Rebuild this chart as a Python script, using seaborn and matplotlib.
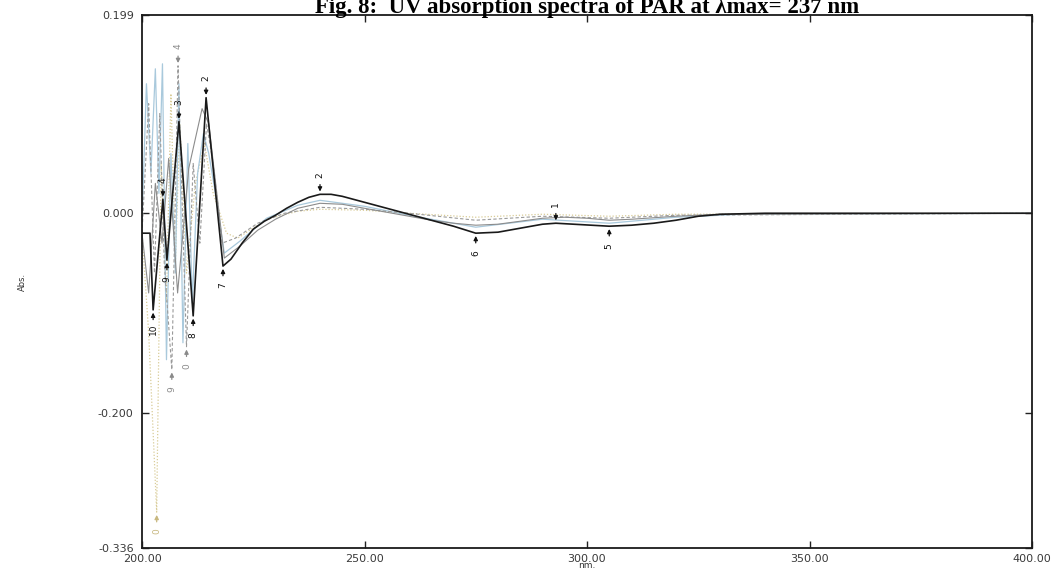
import matplotlib
matplotlib.use("Agg")
import matplotlib.pyplot as plt
import seaborn as sns
import pandas as pd

# ---------------- data ----------------
nm_a = [200, 201.8, 202.5, 204.7, 205.6, 208.3, 211.5, 214.4, 218.2, 220, 222.5, 225, 227.5,
        230, 232.5, 235, 237.5, 240, 242.5, 245, 250, 255, 260, 265, 270, 275, 280, 285,
        290, 293, 297, 301, 305, 310, 315, 320, 325, 330, 340, 360, 380, 400]
abs_a = [-0.020, -0.020, -0.097, 0.014, -0.047, 0.092, -0.103, 0.116, -0.053, -0.046, -0.030,
         -0.016, -0.008, -0.002, 0.005, 0.011, 0.016, 0.019, 0.019, 0.017, 0.011, 0.005, -0.001,
         -0.007, -0.013, -0.020, -0.019, -0.015, -0.011, -0.010, -0.011, -0.012, -0.013, -0.012,
         -0.010, -0.007, -0.003, -0.001, 0.000, 0.000, 0.000, 0.000]

nm_b = [200, 201.5, 203, 204.5, 206, 208, 210.5, 213.5, 215, 218.5, 222, 226, 230, 235, 240,
        245, 250, 255, 260, 265, 270, 275, 280, 285, 290, 295, 300, 305, 310, 320, 330, 400]
abs_b = [-0.020, -0.080, 0.030, -0.030, 0.055, -0.080, 0.045, 0.105, 0.090, -0.045, -0.033,
         -0.017, -0.006, 0.005, 0.010, 0.009, 0.005, 0.001, -0.003, -0.007, -0.010, -0.012,
         -0.011, -0.008, -0.005, -0.004, -0.005, -0.007, -0.006, -0.003, -0.001, 0.000]

nm_c = [200, 201, 202, 203, 203.8, 204.6, 205.5, 206.5, 207.5, 208.3, 209.2, 210.3, 211.3,
        212.5, 213.8, 215, 216.5, 218.5, 222, 228, 235, 240, 250, 260, 275, 290, 305, 320, 335, 400]
abs_c = [-0.010, 0.130, 0.040, 0.145, 0.020, 0.150, -0.147, 0.060, -0.060, 0.130, -0.130, 0.070,
         -0.090, 0.040, 0.080, 0.060, 0.020, -0.040, -0.028, -0.005, 0.008, 0.013, 0.007, -0.002,
         -0.014, -0.006, -0.010, -0.004, -0.001, 0.000]

nm_d = [200, 201.5, 202.8, 204, 205, 206.7, 208.1, 210, 211.5, 213, 214.5, 216, 218, 221, 226,
        232, 240, 250, 260, 275, 290, 305, 320, 400]
abs_d = [-0.020, 0.110, -0.060, 0.100, -0.050, -0.157, 0.148, -0.134, 0.050, -0.030, 0.090,
         0.050, -0.030, -0.025, -0.010, 0.000, 0.006, 0.004, 0.000, -0.007, -0.003, -0.005,
         -0.002, 0.000]

nm_e = [200, 201.5, 203.3, 204.3, 205.5, 206.5, 207.5, 208.5, 210, 212, 214, 216, 219, 221.5,
        228, 235, 240, 250, 260, 275, 290, 305, 320, 400]
abs_e = [-0.020, -0.120, -0.300, 0.050, -0.090, 0.120, -0.050, 0.090, -0.060, 0.030, 0.070,
         0.020, -0.020, -0.025, -0.006, 0.002, 0.004, 0.003, 0.000, -0.004, -0.001, -0.003,
         -0.001, 0.000]

# peak / valley labels: (wavelength, label, kind)
peak_nm_a = [202.5, 204.7, 205.6, 208.3, 211.5, 214.4, 218.2, 240, 275, 293, 305]
peak_lbl_a = ["10", "4", "9", "3", "8", "2", "7", "2", "6", "1", "5"]
peak_kind_a = ["v", "p", "v", "p", "v", "p", "v", "p", "v", "p", "v"]

peak_nm_d = [208.1, 206.7, 210]
peak_lbl_d = ["4", "9", "0"]
peak_kind_d = ["p", "v", "v"]

peak_nm_e = [203.3]
peak_lbl_e = ["0"]
peak_kind_e = ["v"]

title = "Fig. 8:  UV absorption spectra of PAR at \u03bbmax= 237 nm"
x_ticks = [200, 250, 300, 350, 400]
x_ticklabels = ["200.00", "250.00", "300.00", "350.00", "400.00"]
y_ticks = [0.199, 0.0, -0.200, -0.336]
y_ticklabels = ["0.199", "0.000", "-0.200", "-0.336"]

# ---------------- figure ----------------
sns.set_theme(style="white")
plt.rcParams["font.family"] = ["DejaVu Sans"]

fig = plt.figure(figsize=(10.64, 5.74), dpi=100)
ax = fig.add_axes([142 / 1064, 1 - 548 / 574, (1032 - 142) / 1064, (548 - 15) / 574])

series = [
    (nm_e, abs_e, "#d9cc98", (0, (1, 1.5)), 0.9),
    (nm_c, abs_c, "#a9c9dc", "-", 0.9),
    (nm_d, abs_d, "#9a9a9a", (0, (3, 2)), 0.8),
    (nm_b, abs_b, "#8c8c8c", "-", 0.8),
    (nm_a, abs_a, "#1a1a1a", "-", 1.2),
]
for xs, ys, col, ls, lw in series:
    df = pd.DataFrame({"nm": xs, "abs": ys})
    sns.lineplot(data=df, x="nm", y="abs", ax=ax, color=col, linestyle=ls,
                 linewidth=lw, estimator=None, sort=False)


def label_peaks(xs, ys, pnm, plbl, pkind, col):
    for p, lb, k in zip(pnm, plbl, pkind):
        yv = ys[xs.index(p)]
        off = 9 if k == "p" else -9
        ax.annotate("", xy=(p, yv), xytext=(0, off), textcoords="offset points",
                    arrowprops=dict(arrowstyle="-|>", color=col, lw=0.9,
                                    mutation_scale=6))
        ax.annotate(lb, xy=(p, yv), xytext=(0, off + (5 if k == "p" else -5)),
                    textcoords="offset points", rotation=90, ha="center",
                    va="center", fontsize=6.5, color=col)


label_peaks(nm_e, abs_e, peak_nm_e, peak_lbl_e, peak_kind_e, "#c8b880")
label_peaks(nm_d, abs_d, peak_nm_d, peak_lbl_d, peak_kind_d, "#8a8a8a")
label_peaks(nm_a, abs_a, peak_nm_a, peak_lbl_a, peak_kind_a, "#111111")

ax.set_xlim(200, 400)
ax.set_ylim(-0.336, 0.199)
ax.set_xticks(x_ticks)
ax.set_xticklabels(x_ticklabels)
ax.set_yticks(y_ticks)
ax.set_yticklabels(y_ticklabels)
ax.tick_params(axis="both", direction="in", length=5, width=1.0, color="#222222",
               labelsize=8, labelcolor="#3a3a3a", top=True, right=True,
               bottom=True, left=True)
ax.tick_params(axis="x", pad=4)
ax.tick_params(axis="y", pad=6)
ax.set_xlabel("")
ax.set_ylabel("")
for s in ax.spines.values():
    s.set_visible(True)
    s.set_color("#1a1a1a")
    s.set_linewidth(1.3)

fig.text(22 / 1064, 1 - 282 / 574, "Abs.", rotation=90, fontsize=6,
         ha="center", va="center", color="#333333")
fig.text(587 / 1064, 1 - 566 / 574, "nm.", fontsize=6.5, ha="center",
         va="center", color="#333333")
fig.text(587 / 1064, 1 - 13 / 574, title, fontsize=16.5, fontweight="bold",
         family=["Liberation Serif", "DejaVu Serif"], ha="center",
         va="baseline", color="black")

fig.savefig("out.png", dpi=100)
